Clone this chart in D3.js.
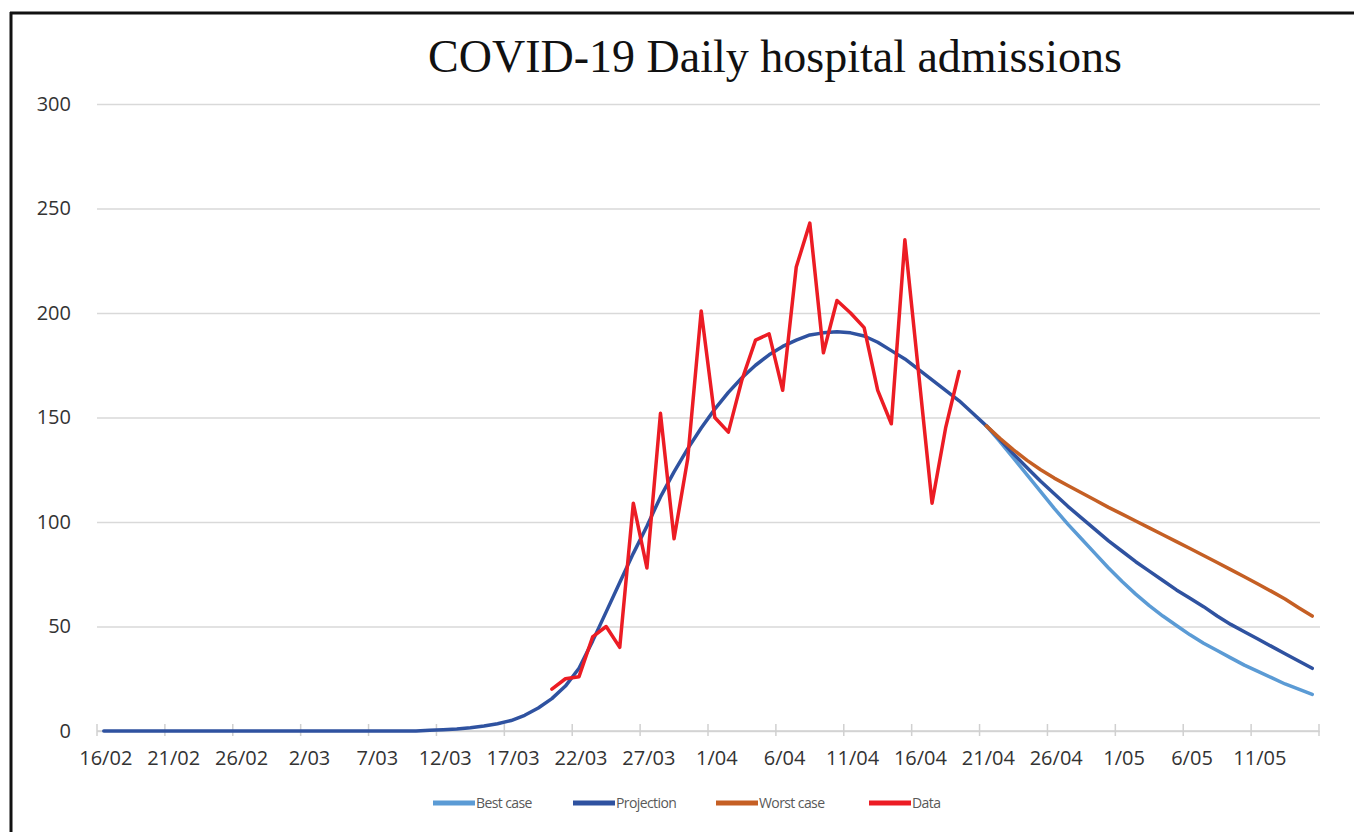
<!DOCTYPE html>
<html>
  <head>
    <title>COVID-19 Daily hospital admissions</title>
    <meta charset="utf-8">
    <script src="https://d3js.org/d3.v7.min.js"></script>
    <style>
      body { margin: 0; background: #fff; }
      svg { display: block; }
    </style>
  </head>
  <body>
    <div id="chart"></div>
    <script>
    // x categories: one per day, 16/02 .. 15/05 (90 days)
    var nDays = 90;
    var tickLabels = ["16/02","21/02","26/02","2/03","7/03","12/03","17/03","22/03","27/03",
                      "1/04","6/04","11/04","16/04","21/04","26/04","1/05","6/05","11/05"];
    var yTicks = [0, 50, 100, 150, 200, 250, 300];

    // Projection, every day from 16/02
    var projection = [0,0,0,0,0,0,0,0,0,0,0,0,0,0,0,0,0,0,0,0,0,0,0,0,0.3,
      0.6,1,1.6,2.4,3.5,5,7.5,11,15.5,21.5,30,43,57,71,85,
      98,112,124,135,145,154,162,169,175,180,
      184,187,189.5,190.5,191,190.5,189,186,182,178,
      173,168,163,158,152,146,139.5,132.5,126,119.5,
      113.5,107.5,102,96.5,91,86,81,76.5,72,67.5,
      63.5,59.5,55,51,47.5,44,40.5,37,33.5,30];

    // Best / worst case start on 21/04 (day 65)
    var scenarioStart = 65;
    var bestCase = [146,138.5,130.5,122.5,114.5,106.5,99,92,85,78,71.5,65.5,60,55,50.5,46,42,
                    38.5,35,31.5,28.5,25.5,22.5,20,17.5];
    var worstCase = [146,140,134.5,129.5,125,121,117.5,114,110.5,107,103.8,100.5,97.2,93.9,
                     90.6,87.3,84,80.6,77.2,73.8,70.3,66.8,63.2,59,55];

    // Reported data, starts 20/03 (day 33)
    var dataStart = 33;
    var reported = [20,25,26,45,50,40,109,78,152,92,130,201,150,143,168,187,190,163,222,243,
                    181,206,200,193,163,147,235,172,109,145,172];

    var seriesNames = ["Best case","Projection","Worst case","Data"];
    var seriesColors = ["#5b9bd5","#2f52a0","#c55f24","#ec1c24"];

    var W = 1354, H = 832;
    var svg = d3.select("#chart").append("svg").attr("width", W).attr("height", H);

    // outer frame (only top and left visible)
    svg.append("line").attr("x1", 10).attr("x2", W).attr("y1", 13).attr("y2", 13)
      .attr("stroke", "#111").attr("stroke-width", 3);
    svg.append("line").attr("x1", 11).attr("x2", 11).attr("y1", 12).attr("y2", H)
      .attr("stroke", "#111").attr("stroke-width", 3);

    svg.append("text")
      .attr("x", 775).attr("y", 72)
      .attr("text-anchor", "middle")
      .attr("font-family", "'Liberation Serif', 'DejaVu Serif', serif")
      .attr("font-size", "46px")
      .attr("fill", "#111")
      .text("COVID-19 Daily hospital admissions");

    var xScale = d3.scaleBand().domain(d3.range(nDays)).range([97, 1319]);
    var bw = xScale.bandwidth();
    var xc = function(d){ return xScale(d) + bw/2; };
    var yScale = d3.scaleLinear().domain([0, 300]).range([731, 104]);

    // gridlines + y labels
    var yAxis = d3.axisLeft(yScale).tickValues(yTicks).tickSize(-(1320-97)).tickPadding(26);
    var gy = svg.append("g").attr("transform", "translate(97,0)").call(yAxis);
    gy.select(".domain").remove();
    gy.selectAll(".tick line").attr("stroke", "#d9d9d9").attr("stroke-width", 1.5);
    gy.selectAll(".tick text")
      .attr("font-family", "'Open Sans', sans-serif").attr("font-size", "20px").attr("fill", "#333");

    // x axis: ticks at band edges every 5 days, labels centred on the day
    var xAxisLine = svg.append("g");
    xAxisLine.append("line").attr("x1", 97).attr("x2", 1319).attr("y1", 731).attr("y2", 731)
      .attr("stroke", "#d0d0d0").attr("stroke-width", 1.5);
    var tickDays = d3.range(0, nDays, 5);
    xAxisLine.selectAll(".xt").data(tickDays.concat([nDays])).enter().append("line")
      .attr("class", "xt")
      .attr("x1", function(d){ return d < nDays ? xScale(d) : 1319; })
      .attr("x2", function(d){ return d < nDays ? xScale(d) : 1319; })
      .attr("y1", 724).attr("y2", 736)
      .attr("stroke", "#d0d0d0").attr("stroke-width", 1.5);
    xAxisLine.selectAll(".xl").data(tickLabels).enter().append("text")
      .attr("class", "xl")
      .attr("x", function(d,i){ return xc(i*5) + 2; })
      .attr("y", 765)
      .attr("text-anchor", "middle")
      .attr("font-family", "'Open Sans', sans-serif").attr("font-size", "20px").attr("fill", "#333")
      .text(function(d){ return d; });

    function lineFor(start) {
      return d3.line()
        .x(function(d,i){ return xc(start + i); })
        .y(function(d){ return yScale(d); });
    }

    var series = [
      {vals: bestCase, start: scenarioStart},
      {vals: projection, start: 0},
      {vals: worstCase, start: scenarioStart},
      {vals: reported, start: dataStart}
    ];
    series.forEach(function(s, i){
      svg.append("path")
        .datum(s.vals)
        .attr("d", lineFor(s.start))
        .attr("fill", "none")
        .attr("stroke", seriesColors[i])
        .attr("stroke-width", 3.5)
        .attr("stroke-linejoin", "round")
        .attr("stroke-linecap", "round");
    });

    // legend
    var legX = [433, 573, 716, 869];
    var leg = svg.append("g");
    seriesNames.forEach(function(n, i){
      leg.append("line")
        .attr("x1", legX[i]).attr("x2", legX[i] + 42)
        .attr("y1", 803).attr("y2", 803)
        .attr("stroke", seriesColors[i]).attr("stroke-width", 5);
      leg.append("text")
        .attr("x", legX[i] + 43).attr("y", 808)
        .attr("font-family", "'Open Sans', sans-serif").attr("font-size", "14px")
        .attr("letter-spacing", "-0.6px")
        .attr("fill", "#595959")
        .text(n);
    });
    </script>
  </body>
</html>
